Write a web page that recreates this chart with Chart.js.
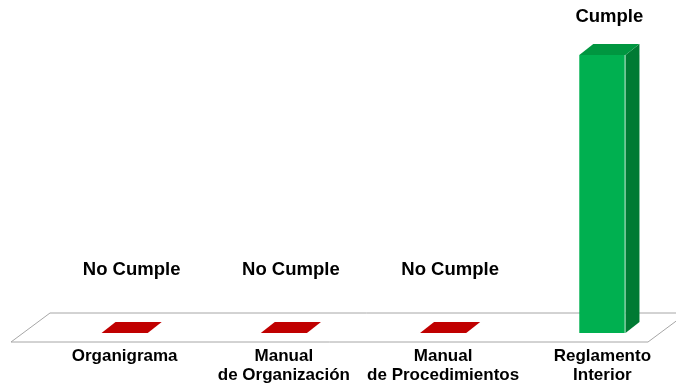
<!DOCTYPE html>
<html>
<head>
<meta charset="utf-8">
<script src="https://cdn.jsdelivr.net/npm/chart.js@4.4.1/dist/chart.umd.min.js"></script>
<style>
  html, body { margin: 0; padding: 0; background: #fff; overflow: hidden; }
  #chart { display: block; }
</style>
</head>
<body>
<canvas id="chart" width="682" height="385"></canvas>
<script>
// categories and values (1 = cumple, 0 = no cumple)
const categories = [
    ['Organigrama'],
    ['Manual', 'de Organización'],
    ['Manual', 'de Procedimientos'],
    ['Reglamento', 'Interior']
];
const values = [0, 0, 0, 1];
const statusLabels = ['No Cumple', 'No Cumple', 'No Cumple', 'Cumple'];

const FONT = '"Liberation Sans", Arial, sans-serif';
const DX = 14, DY = -11;          // bar depth
const FLOOR_DX = 39, FLOOR_DY = -29;

document.addEventListener('DOMContentLoaded', () => {
    const ctx = document.getElementById('chart').getContext('2d');

    const floorPlugin = {
        id: 'floor3d',
        beforeDatasetsDraw(chart) {
            const { ctx, chartArea } = chart;
            const base = chart.scales.y.getPixelForValue(0);
            const front = base + 9;
            const left = chartArea.left - 34;
            const right = chartArea.right - 34;
            ctx.save();
            ctx.beginPath();
            ctx.moveTo(left, front);
            ctx.lineTo(right, front);
            ctx.lineTo(right + FLOOR_DX, front + FLOOR_DY);
            ctx.lineTo(left + FLOOR_DX, front + FLOOR_DY);
            ctx.closePath();
            ctx.fillStyle = '#ffffff';
            ctx.fill();
            ctx.strokeStyle = '#a6a6a6';
            ctx.lineWidth = 1;
            ctx.stroke();
            ctx.restore();
        }
    };

    const barsPlugin = {
        id: 'bars3d',
        afterDatasetsDraw(chart) {
            const { ctx } = chart;
            const meta = chart.getDatasetMeta(0);
            const base = chart.scales.y.getPixelForValue(0);
            ctx.save();
            meta.data.forEach((bar, i) => {
                const w = bar.width;
                const x0 = bar.x - w / 2, x1 = bar.x + w / 2;
                const top = bar.y;
                if (values[i] > 0) {
                    // side face
                    ctx.beginPath();
                    ctx.moveTo(x1, top);
                    ctx.lineTo(x1 + DX, top + DY);
                    ctx.lineTo(x1 + DX, base + DY);
                    ctx.lineTo(x1, base);
                    ctx.closePath();
                    ctx.fillStyle = '#007a33';
                    ctx.fill();
                    // top face
                    ctx.beginPath();
                    ctx.moveTo(x0, top);
                    ctx.lineTo(x0 + DX, top + DY);
                    ctx.lineTo(x1 + DX, top + DY);
                    ctx.lineTo(x1, top);
                    ctx.closePath();
                    ctx.fillStyle = '#009640';
                    ctx.fill();
                    // light edge
                    ctx.strokeStyle = 'rgba(255,255,255,0.6)';
                    ctx.lineWidth = 1;
                    ctx.beginPath();
                    ctx.moveTo(x1 - 0.5, top);
                    ctx.lineTo(x1 - 0.5, base);
                    ctx.stroke();
                } else {
                    // flat red slab for zero
                    ctx.beginPath();
                    ctx.moveTo(x0, base);
                    ctx.lineTo(x1, base);
                    ctx.lineTo(x1 + DX, base + DY);
                    ctx.lineTo(x0 + DX, base + DY);
                    ctx.closePath();
                    ctx.fillStyle = '#c00000';
                    ctx.fill();
                }
                // status label
                ctx.fillStyle = '#000000';
                ctx.font = 'bold 18.5px ' + FONT;
                ctx.textAlign = 'center';
                ctx.textBaseline = 'alphabetic';
                const ly = values[i] > 0 ? top - 33 : base - 58;
                ctx.fillText(statusLabels[i], bar.x + DX / 2, ly);
            });
            ctx.restore();
        }
    };

    new Chart(ctx, {
        type: 'bar',
        data: {
            labels: categories,
            datasets: [{
                data: values,
                backgroundColor: '#00b050',
                borderWidth: 0,
                barPercentage: 0.29,
                categoryPercentage: 1
            }]
        },
        options: {
            responsive: false,
            animation: false,
            layout: {
                padding: { left: 45, right: 0, top: 55, bottom: 0 }
            },
            plugins: {
                legend: { display: false },
                tooltip: { enabled: false }
            },
            scales: {
                x: {
                    grid: { display: false },
                    border: { display: false },
                    ticks: {
                        color: '#000000',
                        font: { family: FONT, size: 17, weight: 'bold', lineHeight: 1.1 },
                        padding: 6,
                        maxRotation: 0,
                        autoSkip: false
                    },
                    afterFit(scale) { scale.height = 52; }
                },
                y: {
                    display: false,
                    min: 0,
                    max: 1
                }
            }
        },
        plugins: [floorPlugin, barsPlugin]
    });
});
</script>
</body>
</html>
